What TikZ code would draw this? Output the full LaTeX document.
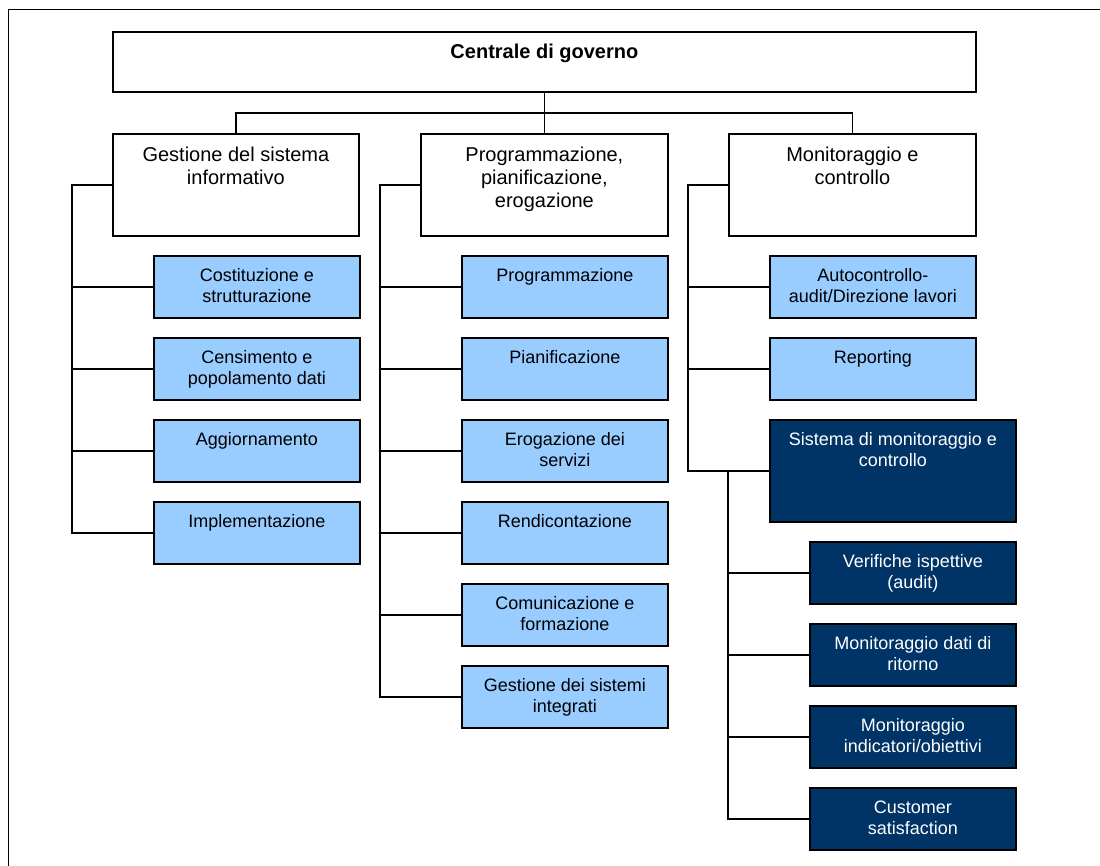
\documentclass[tikz,border=0pt]{standalone}
\usepackage{fontspec}
\setmainfont{Liberation Sans}
\usetikzlibrary{calc}

\definecolor{paleblue}{HTML}{99CCFF}
\definecolor{navy}{HTML}{003366}

% box body: height, width, gap above first line, text
\newcommand{\cellbody}[4]{\parbox[c][#1][t]{#2}{\centering\vspace*{#3}\strut#4\par}}

\tikzset{
  boxbase/.style={draw, line width=1.8pt, inner sep=0pt, anchor=north west},
  topbox/.style={boxbase, fill=white, font=\fontsize{20}{23}\bfseries\selectfont},
  groupbox/.style={boxbase, fill=white, font=\fontsize{20}{23}\selectfont},
  taskbox/.style={boxbase, fill=paleblue, font=\fontsize{18}{21}\selectfont},
  darkbox/.style={boxbase, fill=navy, text=white, font=\fontsize{18}{21}\selectfont},
  link/.style={line width=1.6pt},
}

\begin{document}
\begin{tikzpicture}[x=1pt, y=-1pt]
  \useasboundingbox (0,0) rectangle (1100,866);

  % outer frame
  \draw[line width=1.8pt, black] (8.5,866) -- (8.5,9.5) -- (1100,9.5);

  % top level
  \node[topbox] (title) at (112,31) {\cellbody{60pt}{863pt}{10.6pt}{Centrale di governo}};

  % second level
  \node[groupbox] (gsi) at (112,133) {\cellbody{102pt}{246pt}{11.9pt}{Gestione del sistema\\informativo}};
  \node[groupbox] (ppe) at (420,133) {\cellbody{102pt}{247pt}{11.9pt}{Programmazione,\\pianificazione,\\erogazione}};
  \node[groupbox] (mon) at (728,133) {\cellbody{102pt}{247pt}{11.9pt}{Monitoraggio e\\controllo}};

  % column 1
  \node[taskbox] (cost) at (153,255) {\cellbody{62pt}{206pt}{11pt}{Costituzione e\\strutturazione}};
  \node[taskbox] (cens) at (153,337) {\cellbody{62pt}{206pt}{11pt}{Censimento e\\popolamento dati}};
  \node[taskbox] (agg)  at (153,419) {\cellbody{62pt}{206pt}{11pt}{Aggiornamento}};
  \node[taskbox] (impl) at (153,501) {\cellbody{62pt}{206pt}{11pt}{Implementazione}};

  % column 2
  \node[taskbox] (prog) at (461,255) {\cellbody{62pt}{206pt}{11pt}{Programmazione}};
  \node[taskbox] (pian) at (461,337) {\cellbody{62pt}{206pt}{11pt}{Pianificazione}};
  \node[taskbox] (erog) at (461,419) {\cellbody{62pt}{206pt}{11pt}{Erogazione dei\\servizi}};
  \node[taskbox] (rend) at (461,501) {\cellbody{62pt}{206pt}{11pt}{Rendicontazione}};
  \node[taskbox] (comf) at (461,583) {\cellbody{62pt}{206pt}{11pt}{Comunicazione e\\formazione}};
  \node[taskbox] (gsis) at (461,665) {\cellbody{62pt}{206pt}{11pt}{Gestione dei sistemi\\integrati}};

  % column 3
  \node[taskbox] (auto) at (769,255) {\cellbody{62pt}{206pt}{11pt}{Autocontrollo-\\audit/Direzione lavori}};
  \node[taskbox] (rep)  at (769,337) {\cellbody{62pt}{206pt}{11pt}{Reporting}};
  \node[darkbox] (sis)  at (769,419) {\cellbody{102pt}{246pt}{11pt}{Sistema di monitoraggio e\\controllo}};
  \node[darkbox] (ver)  at (809,541) {\cellbody{62pt}{206pt}{11pt}{Verifiche ispettive\\(audit)}};
  \node[darkbox] (mdr)  at (809,623) {\cellbody{62pt}{206pt}{11pt}{Monitoraggio dati di\\ritorno}};
  \node[darkbox] (mio)  at (809,705) {\cellbody{62pt}{206pt}{11pt}{Monitoraggio\\indicatori/obiettivi}};
  \node[darkbox] (cust) at (809,787) {\cellbody{62pt}{206pt}{11pt}{Customer\\satisfaction}};

  % spines
  \coordinate (spineA) at (72,0);
  \coordinate (spineB) at (380,0);
  \coordinate (spineC) at (688,0);
  \coordinate (spineD) at (728,0);
  \coordinate (bus) at ($(title.south)!0.5!(ppe.north)$);

  % top connectors
  \draw[link] (title.south) -- (ppe.north);
  \draw[link] (gsi.north) |- (bus) -| (mon.north);

  % column 1 connectors
  \draw[link] (gsi.west) -| (spineA |- impl.west) -- (impl.west);
  \foreach \n in {cost, cens, agg}
    \draw[link] (\n.west) -- (spineA |- \n.west);

  % column 2 connectors
  \draw[link] (ppe.west) -| (spineB |- gsis.west) -- (gsis.west);
  \foreach \n in {prog, pian, erog, rend, comf}
    \draw[link] (\n.west) -- (spineB |- \n.west);

  % column 3 connectors
  \draw[link] (mon.west) -| (spineC |- sis.west) -- (sis.west);
  \foreach \n in {auto, rep}
    \draw[link] (\n.west) -- (spineC |- \n.west);

  % sub-branch of the monitoring system
  \draw[link] (spineD |- sis.west) |- (cust.west);
  \foreach \n in {ver, mdr, mio}
    \draw[link] (\n.west) -- (spineD |- \n.west);
\end{tikzpicture}
\end{document}
